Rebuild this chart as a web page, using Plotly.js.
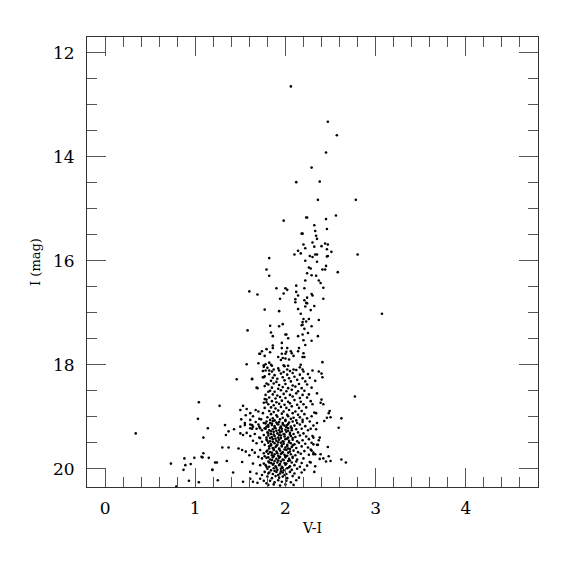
<!DOCTYPE html>
<html>
<head>
<meta charset="utf-8">
<script src="https://cdn.plot.ly/plotly-3.0.1.min.js"></script>
<style>html,body{margin:0;padding:0;background:#fff;}#chart{width:575px;height:575px;}</style>
</head>
<body>
<div id="chart"></div>
<script>
// Each star: [V-I, I]
const rgbTop = [
 [2.06,12.65],[2.47,13.33],[2.57,13.59],[2.45,13.92],[2.29,14.21],[2.12,14.49],[2.38,14.48],
 [2.36,14.83],[2.78,14.83],[2.56,15.13],[1.98,15.23],[2.23,15.17],[2.24,15.17],[2.45,15.20],
 [2.32,15.32],[2.46,15.39],[2.33,15.43],[2.18,15.48],[2.19,15.48],[2.34,15.52],[2.35,15.58]
];
const rgbMid = [
 [2.20,15.69],[2.30,15.65],[2.32,15.73],[2.40,15.72],[2.44,15.67],[2.47,15.69],[2.46,15.78],
 [2.51,15.83],[2.22,15.76],[2.14,15.81],[2.17,15.86],[2.10,15.88],[2.27,15.91],[2.30,15.93],
 [2.33,15.88],[2.35,15.88],[2.46,15.92],[2.47,15.91],[2.80,15.88],[1.82,15.95],[2.22,16.00],
 [2.35,16.02],[2.45,16.10],[2.41,16.17],[2.44,16.17],[2.26,16.13],[2.28,16.15],[1.79,16.17],
 [2.58,16.22],[2.24,16.24],[2.29,16.28],[2.34,16.29],[1.82,16.29],[2.22,16.38],[2.37,16.38],
 [2.39,16.43],[2.12,16.48],[2.42,16.52],[1.90,16.53],[2.00,16.53],[2.02,16.56],[2.21,16.53],
 [1.60,16.59],[1.69,16.65],[2.12,16.60],[1.98,16.63],[2.14,16.67],[2.29,16.64],[2.30,16.67],
 [2.24,16.71],[1.94,16.73],[2.11,16.74],[2.11,16.80],[2.21,16.76],[2.23,16.81],[2.24,16.82],
 [2.22,16.88],[2.42,16.73],[2.32,16.87],[1.77,16.94],[1.93,16.97],[2.14,16.93],[2.28,16.95],
 [2.17,17.02],[3.07,17.02],[2.20,17.12],[2.26,17.12],[2.23,17.17],[2.19,17.18],[2.37,17.14],
 [1.97,17.22],[1.83,17.25],[1.93,17.26],[2.18,17.24],[2.19,17.23],[2.29,17.26],[2.21,17.31],
 [1.58,17.34],[1.84,17.38],[2.25,17.39],[2.00,17.42],[2.01,17.42],[1.86,17.45],[2.19,17.42],
 [2.14,17.45],[2.36,17.45],[2.03,17.49],[2.20,17.53],[2.29,17.54],[1.96,17.58],[1.86,17.63],
 [1.86,17.68],[2.22,17.62],[1.96,17.68],[2.02,17.68],[2.15,17.68],[1.74,17.74],[1.79,17.70],
 [2.06,17.74],[2.01,17.75],[2.14,17.74],[1.71,17.79],[1.83,17.76],[1.96,17.79],[2.00,17.79],
 [2.07,17.78],[2.20,17.78],[1.77,17.83],[1.92,17.85],[1.97,17.87],[2.00,17.88],[2.09,17.83],
 [2.19,17.85],[2.21,17.85],[2.04,17.90],[1.95,17.91],[1.70,17.97],[1.57,17.99],[1.76,18.01],
 [1.78,17.99],[1.82,17.96],[1.84,18.00],[1.85,18.02],[1.98,18.01],[1.99,18.03],[2.03,18.02],
 [2.17,18.00],[2.41,17.95],[1.76,18.04],[1.80,18.06],[1.87,18.09],[1.92,18.07],[2.02,18.09],
 [2.09,18.09],[2.16,18.05],[2.19,18.09],[1.72,17.79],[1.78,18.11],[1.75,18.12],[1.82,18.11],
 [1.76,18.24],[1.63,18.27],[1.46,18.28]
];
const blueSide = [
 [0.34,19.32],[1.04,18.72],[1.27,18.79],[1.03,19.04],[1.14,19.22],[1.09,19.40],[1.09,19.70],
 [1.07,19.77],[1.08,19.78],[1.15,19.79],[0.99,19.79],[0.88,19.80],[0.73,19.90],[1.24,19.88],
 [0.95,19.91],[0.89,19.93],[0.87,20.02],[1.19,20.02],[0.93,20.23],[1.04,20.26],[1.25,20.22],
 [0.79,20.34],
 [1.77,18.22],[1.75,18.24],[1.63,18.28],[1.68,18.44],[1.69,18.45],[1.77,18.41],[1.79,18.36],
 [1.81,18.52],[1.78,18.58],[1.77,18.66],[1.79,18.67],[1.76,18.73],[1.79,18.72],[1.53,18.79],
 [1.57,18.85],[1.50,18.87],[1.61,18.93],[1.67,18.87],[1.70,18.90],[1.75,18.93],[1.77,18.83],
 [1.56,18.97],[1.64,18.99],[1.71,19.04],[1.73,19.05],[1.51,19.05],[1.61,19.06],[1.67,19.10],
 [1.76,19.12],[1.78,19.13],[1.70,19.15],[1.33,19.16],[1.55,19.16],[1.63,19.16],[1.61,19.22],
 [1.63,19.23],[1.43,19.24],[1.72,19.22],[1.79,19.19],[1.50,19.19],
 [1.55,19.12],[1.61,19.15],[1.64,19.19],[1.68,19.23],[1.71,19.19],[1.74,19.26],[1.77,19.22],
 [1.81,19.16],[1.37,19.28],[1.34,19.35],[1.50,19.32],[1.53,19.35],[1.57,19.31],[1.61,19.37],
 [1.66,19.33],[1.71,19.40],[1.72,19.41],[1.76,19.35],[1.79,19.40],[1.81,19.32],[1.64,19.46],
 [1.68,19.51],[1.74,19.48],[1.77,19.54],[1.80,19.46],[1.30,19.59],[1.37,19.59],[1.48,19.61],
 [1.52,19.64],[1.56,19.67],[1.63,19.64],[1.66,19.69],[1.72,19.64],[1.76,19.70],[1.79,19.67],
 [1.82,19.61],[1.60,19.74],[1.70,19.77],[1.74,19.80],[1.77,19.76],[1.81,19.78],[1.22,19.88],
 [1.35,19.85],[1.52,19.87],[1.64,19.90],[1.72,19.93],[1.76,19.90],[1.79,19.96],[1.82,19.88],
 [1.19,20.02],[1.42,20.07],[1.61,20.06],[1.68,20.09],[1.74,20.12],[1.77,20.06],[1.81,20.09],
 [1.53,20.25],[1.64,20.25],[1.69,20.27],[1.76,20.23],[1.79,20.28],[1.61,20.19],[1.72,20.19]
];
const redSide = [
 [2.37,18.13],[2.40,18.17],[2.41,18.24],[2.35,18.55],[2.40,18.67],[2.30,18.76],[2.39,18.73],
 [2.42,18.76],[2.77,18.61],[2.32,18.92],[2.34,18.93],[2.49,18.89],[2.48,18.93],[2.29,18.99],
 [2.46,19.02],[2.50,19.01],[2.43,19.08],[2.62,19.03],[2.28,19.23],[2.59,19.21],[2.30,19.37],
 [2.31,19.40],[2.38,19.40],[2.37,19.45],[2.29,19.50],[2.31,19.53],[2.35,19.54],[2.36,19.54],
 [2.47,19.58],[2.28,19.63],[2.29,19.65],[2.31,19.69],[2.39,19.72],[2.31,19.72],[2.33,19.72],
 [2.48,19.76],[2.38,19.81],[2.42,19.80],[2.62,19.82],[2.28,19.88],[2.45,19.86],[2.50,19.85],
 [2.67,19.88],[2.33,19.95],[2.32,20.06]
];
const upperCore = [
 [1.85,18.13],[1.93,18.11],[1.98,18.14],[2.05,18.12],[2.12,18.10],[2.20,18.13],[2.30,18.11],
 [1.82,18.18],[1.88,18.20],[1.95,18.17],[2.02,18.19],[2.08,18.16],[2.16,18.19],[2.25,18.18],
 [1.86,18.25],[1.91,18.27],[1.97,18.24],[2.04,18.26],[2.10,18.23],[2.19,18.26],[2.27,18.25],
 [1.84,18.31],[1.90,18.33],[1.99,18.30],[2.06,18.32],[2.13,18.29],[2.22,18.32],[2.33,18.31],
 [1.81,18.38],[1.87,18.36],[1.93,18.39],[2.00,18.37],[2.08,18.40],[2.15,18.37],[2.24,18.38],
 [1.85,18.44],[1.92,18.46],[1.97,18.43],[2.03,18.45],[2.11,18.42],[2.18,18.45],[2.29,18.44],
 [1.83,18.50],[1.88,18.52],[1.95,18.49],[2.01,18.51],[2.07,18.48],[2.14,18.51],[2.21,18.50],
 [1.86,18.57],[1.91,18.59],[1.98,18.56],[2.05,18.58],[2.12,18.55],[2.19,18.58],[2.26,18.57],
 [1.82,18.63],[1.89,18.65],[1.94,18.62],[2.00,18.64],[2.08,18.61],[2.16,18.64],[2.24,18.63],
 [1.85,18.70],[1.90,18.72],[1.96,18.69],[2.03,18.71],[2.10,18.68],[2.17,18.71],[2.28,18.70],
 [1.81,18.76],[1.87,18.78],[1.93,18.75],[1.99,18.77],[2.05,18.74],[2.13,18.77],[2.20,18.76],
 [1.84,18.82],[1.89,18.84],[1.95,18.81],[2.01,18.83],[2.07,18.80],[2.15,18.83],[2.23,18.82],
 [1.82,18.89],[1.87,18.91],[1.92,18.88],[1.98,18.90],[2.04,18.87],[2.11,18.90],[2.18,18.89],
 [1.84,18.95],[1.90,18.97],[1.96,18.94],[2.02,18.96],[2.08,18.93],[2.14,18.96],[2.21,18.95],
 [1.80,19.01],[1.86,19.03],[1.91,19.00],[1.97,19.02],[2.03,18.99],[2.09,19.02],[2.16,19.01],
 [2.24,19.03],[1.83,19.06],[1.88,19.07],[1.94,19.05],[2.00,19.06],[2.06,19.04],[2.12,19.07],
 [2.19,19.06]
];
const core = [
 [1.79,19.09],[1.83,19.12],[1.86,19.08],[1.90,19.11],[1.93,19.10],[1.97,19.12],[2.00,19.08],[2.04,19.11],[2.08,19.09],[2.13,19.12],[2.19,19.10],[2.27,19.09],[2.35,19.12],
 [1.81,19.19],[1.85,19.16],[1.88,19.18],[1.92,19.15],[1.95,19.19],[1.99,19.17],[2.02,19.16],[2.06,19.19],[2.10,19.17],[2.16,19.15],[2.22,19.18],[2.31,19.17],
 [1.78,19.23],[1.82,19.26],[1.86,19.24],[1.89,19.22],[1.93,19.26],[1.96,19.23],[2.00,19.25],[2.03,19.22],[2.07,19.26],[2.12,19.24],[2.18,19.23],[2.25,19.26],[2.34,19.24],
 [1.80,19.30],[1.84,19.33],[1.87,19.29],[1.91,19.32],[1.94,19.30],[1.98,19.33],[2.01,19.29],[2.05,19.31],[2.09,19.33],[2.14,19.30],[2.20,19.32],
 [1.81,19.36],[1.85,19.39],[1.88,19.37],[1.92,19.40],[1.95,19.36],[1.99,19.38],[2.03,19.40],[2.06,19.37],[2.11,19.39],[2.16,19.36],[2.23,19.38],
 [1.79,19.44],[1.83,19.47],[1.86,19.43],[1.90,19.46],[1.93,19.44],[1.97,19.47],[2.00,19.43],[2.04,19.46],[2.08,19.44],[2.13,19.47],[2.19,19.45],[2.26,19.43],
 [1.81,19.50],[1.84,19.53],[1.88,19.51],[1.91,19.54],[1.95,19.50],[1.98,19.52],[2.02,19.54],[2.06,19.51],[2.10,19.53],[2.15,19.50],[2.22,19.52],
 [1.82,19.57],[1.86,19.60],[1.89,19.58],[1.93,19.61],[1.96,19.57],[2.00,19.59],[2.03,19.61],[2.07,19.58],[2.12,19.60],[2.18,19.57],[2.25,19.59],
 [1.80,19.65],[1.83,19.68],[1.87,19.64],[1.90,19.67],[1.94,19.65],[1.97,19.68],[2.01,19.64],[2.05,19.67],[2.09,19.65],[2.14,19.68],[2.21,19.66],
 [1.81,19.71],[1.85,19.74],[1.88,19.72],[1.92,19.75],[1.95,19.71],[1.99,19.73],[2.02,19.75],[2.06,19.72],[2.11,19.74],[2.17,19.71],[2.26,19.73],
 [1.79,19.79],[1.83,19.82],[1.86,19.78],[1.90,19.81],[1.93,19.79],[1.97,19.82],[2.00,19.78],[2.04,19.81],[2.08,19.79],[2.13,19.82],[2.20,19.80],
 [1.81,19.86],[1.84,19.89],[1.88,19.85],[1.91,19.88],[1.95,19.86],[1.99,19.89],[2.03,19.85],[2.07,19.88],[2.12,19.86],[2.18,19.89],[2.27,19.87],
 [1.78,19.93],[1.82,19.96],[1.86,19.92],[1.89,19.95],[1.93,19.93],[1.96,19.96],[2.00,19.92],[2.05,19.95],[2.10,19.93],[2.16,19.96],[2.24,19.94],
 [1.80,20.00],[1.84,20.03],[1.87,19.99],[1.91,20.02],[1.95,20.00],[1.98,20.03],[2.02,19.99],[2.07,20.02],[2.13,20.00],[2.21,20.02],
 [1.82,20.07],[1.86,20.10],[1.90,20.06],[1.94,20.09],[1.97,20.07],[2.01,20.10],[2.05,20.06],[2.10,20.09],[2.18,20.07],
 [1.80,20.15],[1.85,20.18],[1.89,20.14],[1.93,20.17],[1.97,20.15],[2.02,20.18],[2.08,20.14],[2.15,20.17],
 [1.83,20.23],[1.88,20.26],[1.92,20.22],[1.96,20.25],[2.01,20.23],[2.06,20.26],[2.12,20.22],
 [1.81,20.31],[1.87,20.30],[1.94,20.32],[2.00,20.30],[2.09,20.31]
];
// extra stars in the darkest part of the clump
const coreDense = [
 [1.85,19.13],[1.91,19.14],[1.97,19.15],[2.03,19.14],[1.88,19.21],[1.94,19.21],[2.01,19.20],[2.07,19.22],
 [1.84,19.28],[1.90,19.27],[1.96,19.28],[2.03,19.27],[1.87,19.34],[1.93,19.35],[1.99,19.34],[2.05,19.34],
 [1.83,19.41],[1.89,19.42],[1.95,19.41],[2.02,19.42],[2.08,19.41],[1.86,19.48],[1.92,19.49],[1.98,19.48],
 [2.04,19.49],[1.84,19.55],[1.90,19.56],[1.96,19.55],[2.02,19.56],[2.08,19.55],[1.87,19.62],[1.93,19.62],
 [1.99,19.63],[2.05,19.62],[1.85,19.69],[1.91,19.70],[1.96,19.70],[2.03,19.69],[1.87,19.76],[1.94,19.77],
 [2.00,19.76],[2.08,19.77],[1.85,19.83],[1.92,19.84],[1.98,19.83],[2.05,19.84],[1.87,19.90],[1.94,19.91],
 [2.01,19.90],[1.90,19.98],[1.97,19.98],[2.04,19.97],[1.88,20.04],[1.95,20.05],[1.92,20.12],[1.99,20.12]
];
const xTickVals = [0,1,2,3,4];
const yTickVals = [12,14,16,18,20];

const stars = [].concat(rgbTop, rgbMid, blueSide, redSide, upperCore, core, coreDense);
const trace = {
  x: stars.map(s => s[0]),
  y: stars.map(s => s[1]),
  mode: 'markers',
  type: 'scatter',
  marker: {color: '#000', size: 2.6, line: {width: 0}},
  hoverinfo: 'skip'
};
const fontFam = 'DejaVu Serif, serif';
const axisCommon = {
  showgrid: false, zeroline: false, showline: true, linecolor: '#333', linewidth: 1,
  mirror: 'allticks', ticks: 'inside', ticklen: 19, tickcolor: '#555', tickwidth: 1,
  tickfont: {family: fontFam, size: 17, color: '#000'}
};
const layout = {
  width: 575, height: 575,
  margin: {l: 87, r: 37, t: 37, b: 88},
  paper_bgcolor: '#fff', plot_bgcolor: '#fff',
  showlegend: false,
  xaxis: Object.assign({}, axisCommon, {
    range: [-0.2, 4.8], tickvals: xTickVals, ticktext: xTickVals.map(String),
    minor: {dtick: 0.2, tick0: 0, ticks: 'inside', ticklen: 10, tickcolor: '#555', tickwidth: 1},
    ticklabelstandoff: 6,
    title: {text: 'V-I', font: {family: fontFam, size: 14, color: '#000'}, standoff: 5}
  }),
  yaxis: Object.assign({}, axisCommon, {
    range: [20.35, 11.7], tickvals: yTickVals, ticktext: yTickVals.map(String),
    minor: {dtick: 0.5, tick0: 0, ticks: 'inside', ticklen: 10, tickcolor: '#555', tickwidth: 1},
    ticklabelstandoff: 8,
    title: {text: 'I (mag)', font: {family: fontFam, size: 13, color: '#000'}, standoff: 9}
  })
};
Plotly.newPlot('chart', [trace], layout, {staticPlot: true, displayModeBar: false});
</script>
</body>
</html>
